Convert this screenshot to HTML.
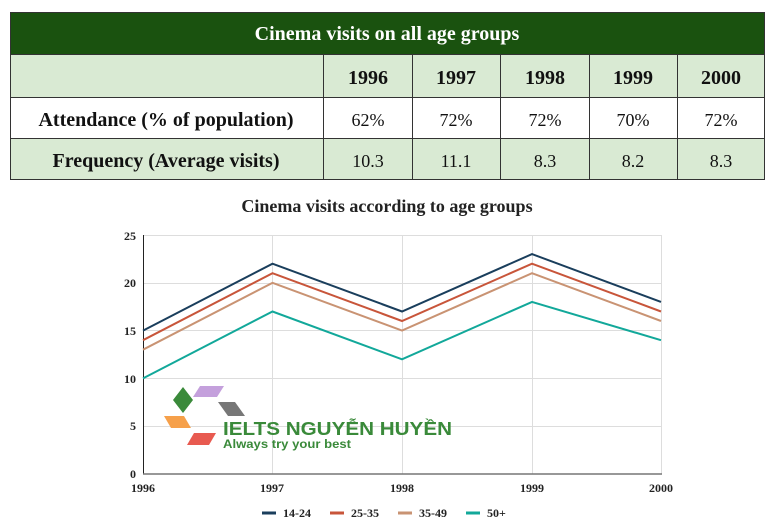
<!DOCTYPE html>
<html><head><meta charset="utf-8"><style>
html,body{margin:0;padding:0;background:#fff;width:774px;height:529px;overflow:hidden}
</style></head><body>
<svg width="774" height="529" xmlns="http://www.w3.org/2000/svg" font-family="Liberation Serif, serif">
<rect x="10" y="12" width="755" height="42" fill="#1a520f"/>
<rect x="10" y="54" width="755" height="43" fill="#d9ead3"/>
<rect x="10" y="97" width="755" height="41" fill="#fff"/>
<rect x="10" y="138" width="755" height="42" fill="#d9ead3"/>
<g stroke="#333" stroke-width="1" fill="none">
<rect x="10.5" y="12.5" width="754" height="167"/>
<line x1="10" y1="54.5" x2="765" y2="54.5"/>
<line x1="10" y1="97.5" x2="765" y2="97.5"/>
<line x1="10" y1="138.5" x2="765" y2="138.5"/>
<line x1="323.5" y1="54" x2="323.5" y2="180"/>
<line x1="412.5" y1="54" x2="412.5" y2="180"/>
<line x1="500.5" y1="54" x2="500.5" y2="180"/>
<line x1="589.5" y1="54" x2="589.5" y2="180"/>
<line x1="677.5" y1="54" x2="677.5" y2="180"/>
</g>
<text x="387" y="40" fill="#fff" font-size="20" font-weight="bold" text-anchor="middle">Cinema visits on all age groups</text>
<g font-size="20" font-weight="bold" text-anchor="middle" fill="#111">
<text x="368" y="84">1996</text><text x="456" y="84">1997</text><text x="545" y="84">1998</text><text x="633" y="84">1999</text><text x="721" y="84">2000</text>
<text x="166" y="126">Attendance (% of population)</text>
<text x="166" y="167">Frequency (Average visits)</text>
</g>
<g font-size="18" text-anchor="middle" fill="#111">
<text x="368" y="126">62%</text><text x="456" y="126">72%</text><text x="545" y="126">72%</text><text x="633" y="126">70%</text><text x="721" y="126">72%</text>
<text x="368" y="167">10.3</text><text x="456" y="167">11.1</text><text x="545" y="167">8.3</text><text x="633" y="167">8.2</text><text x="721" y="167">8.3</text>
</g>
<text x="387" y="212" font-size="18" font-weight="bold" text-anchor="middle" fill="#222">Cinema visits according to age groups</text>
<g stroke="#ddd" stroke-width="1">
<line x1="143" y1="235.5" x2="661" y2="235.5"/>
<line x1="143" y1="283.5" x2="661" y2="283.5"/>
<line x1="143" y1="330.5" x2="661" y2="330.5"/>
<line x1="143" y1="378.5" x2="661" y2="378.5"/>
<line x1="143" y1="426.5" x2="661" y2="426.5"/>
<line x1="272.5" y1="235" x2="272.5" y2="474"/>
<line x1="402.5" y1="235" x2="402.5" y2="474"/>
<line x1="532.5" y1="235" x2="532.5" y2="474"/>
<line x1="661.5" y1="235" x2="661.5" y2="474"/>
</g>
<line x1="143.5" y1="235" x2="143.5" y2="474" stroke="#222"/>
<line x1="143" y1="474" x2="662" y2="474" stroke="#777" stroke-width="1.5"/>
<g font-size="12" font-weight="bold" fill="#222" text-anchor="end">
<text x="136" y="240">25</text><text x="136" y="287">20</text><text x="136" y="335">15</text><text x="136" y="383">10</text><text x="136" y="430">5</text><text x="136" y="478">0</text>
</g>
<g font-size="12" font-weight="bold" fill="#222" text-anchor="middle">
<text x="143" y="492">1996</text><text x="272" y="492">1997</text><text x="402" y="492">1998</text><text x="532" y="492">1999</text><text x="661" y="492">2000</text>
</g>
<g fill="none" stroke-width="2">
<polyline stroke="#1a3e5c" points="143,330.6 272.5,263.7 402,311.5 532,254.1 661,301.9"/>
<polyline stroke="#c8553a" points="143,340.2 272.5,273.2 402,321.0 532,263.7 661,311.5"/>
<polyline stroke="#c99373" points="143,349.7 272.5,282.8 402,330.6 532,273.2 661,321.0"/>
<polyline stroke="#12a89a" points="143,378.4 272.5,311.5 402,359.3 532,301.9 661,340.2"/>
</g>
<g font-family="Liberation Sans, sans-serif" font-weight="bold">
<polygon points="183,413 173,400 183,387 193,400" fill="#3a8a3a"/>
<polygon points="200,386 224,386 217,397 193,397" fill="#c4a0dc"/>
<polygon points="218,402 235,402 245,416 228,416" fill="#777"/>
<polygon points="164,416 184,416 191,428 171,428" fill="#f6a04a"/>
<polygon points="194,433 216,433 209,445 187,445" fill="#e85a50"/>
<text x="223" y="435" font-size="18" fill="#3a8a3a" textLength="229" lengthAdjust="spacingAndGlyphs">IELTS NGUYỄN HUYỀN</text>
<text x="223" y="448" font-size="12" fill="#3a8a3a" textLength="128" lengthAdjust="spacingAndGlyphs">Always try your best</text>
</g>
<g font-size="12" font-weight="bold" fill="#222">
<line x1="262" y1="513" x2="276" y2="513" stroke="#1a3e5c" stroke-width="3"/><text x="283" y="517">14-24</text>
<line x1="330" y1="513" x2="344" y2="513" stroke="#c8553a" stroke-width="3"/><text x="351" y="517">25-35</text>
<line x1="398" y1="513" x2="412" y2="513" stroke="#c99373" stroke-width="3"/><text x="419" y="517">35-49</text>
<line x1="466" y1="513" x2="480" y2="513" stroke="#12a89a" stroke-width="3"/><text x="487" y="517">50+</text>
</g>
</svg>
</body></html>
